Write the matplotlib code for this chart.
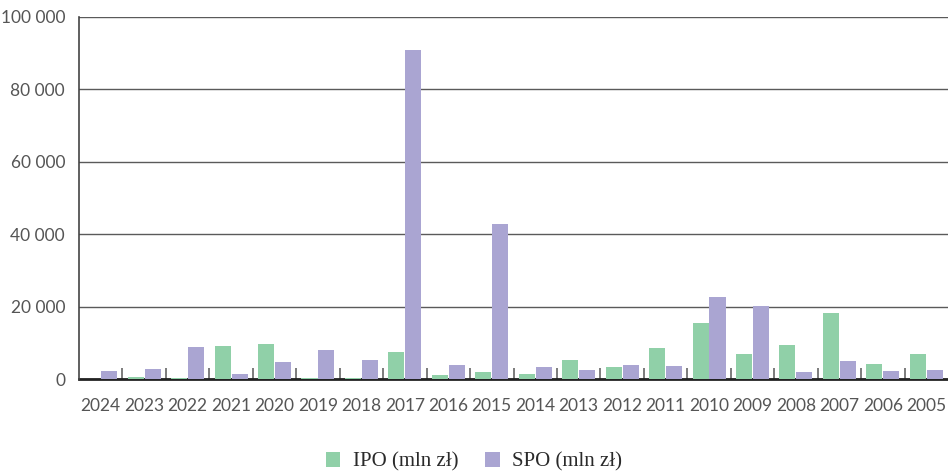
import numpy as np
import matplotlib.pyplot as plt
from matplotlib.ticker import FuncFormatter

years = ["2024", "2023", "2022", "2021", "2020", "2019", "2018", "2017", "2016", "2015",
         "2014", "2013", "2012", "2011", "2010", "2009", "2008", "2007", "2006", "2005"]
ipo = [100, 500, 200, 9100, 9700, 300, 400, 7500, 1100, 1900,
       1400, 5250, 3300, 8550, 15450, 6900, 9400, 18200, 4150, 6900]
spo = [2200, 2750, 8850, 1400, 4700, 8000, 5250, 90900, 3850, 42800,
       3300, 2500, 3850, 3600, 22650, 20150, 1950, 4950, 2200, 2500]

green = "#90d0a8"
purple = "#aaa5d2"

plt.rcParams["font.family"] = ["Lato", "DejaVu Sans"]

fig = plt.figure(figsize=(9.48, 4.72), dpi=100)
ax = fig.add_axes([79 / 948, 1 - 379 / 472, 869 / 948, 362 / 472])

x = np.arange(len(years))
w = 0.37
ax.bar(x - 0.195, ipo, width=w, color=green, label="IPO (mln zł)", zorder=3)
ax.bar(x + 0.195, spo, width=w, color=purple, label="SPO (mln zł)", zorder=3)

ax.set_xlim(-0.5, len(years) - 0.5)
ax.set_ylim(0, 100000)
ax.set_yticks(np.arange(0, 100001, 20000))
ax.yaxis.set_major_formatter(FuncFormatter(lambda v, p: f"{int(v):,}".replace(",", " ")))
ax.yaxis.grid(True, color="#5a5a5a", linewidth=1, zorder=1)
ax.set_axisbelow(True)

ax.set_xticks(x)
ax.set_xticklabels(years)
ax.set_xticks(np.arange(0.5, len(years) - 0.5, 1), minor=True)
ax.tick_params(axis="x", which="major", length=0, pad=14, labelsize=12.5, labelcolor="#555555")
ax.tick_params(axis="x", which="minor", direction="in", length=8, width=1.2, color="#666666")
ax.tick_params(axis="y", length=0, pad=10, labelsize=12.5, labelcolor="#555555")

for s in ["top", "right"]:
    ax.spines[s].set_visible(False)
ax.spines["left"].set_color("#444444")
ax.spines["left"].set_linewidth(1.2)
ax.spines["bottom"].set_color("#222222")
ax.spines["bottom"].set_linewidth(2)
ax.spines["bottom"].set_zorder(2)

fig.legend(loc="center", bbox_to_anchor=(0.5, 1 - 462 / 472), ncol=2, frameon=False,
           prop={"family": "Liberation Serif", "size": 15}, handlelength=0.7, handleheight=0.7,
           columnspacing=1.3, handletextpad=0.6, labelcolor="#2a2a2a")

fig.savefig("out.png", dpi=100)
